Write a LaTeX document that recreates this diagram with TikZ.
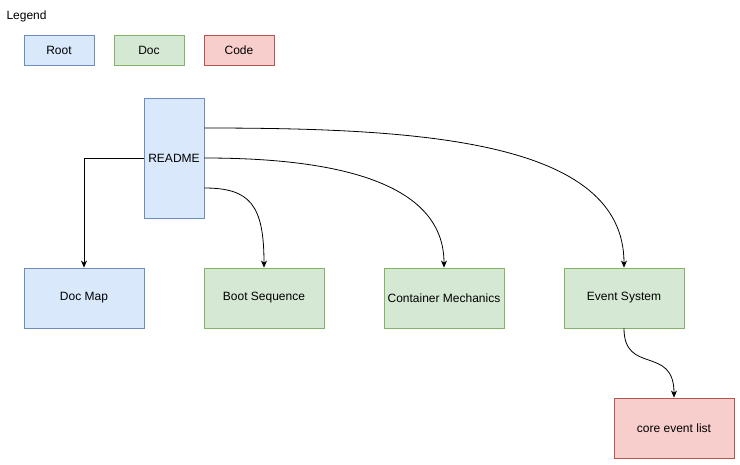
\documentclass[tikz,border=0pt]{standalone}
\usepackage{fontspec}
\setmainfont{Liberation Sans}
\usepackage{tikz}
\usetikzlibrary{arrows.meta}

\definecolor{rootfill}{HTML}{DAE8FC}
\definecolor{rootline}{HTML}{6C8EBF}
\definecolor{docfill}{HTML}{D5E8D4}
\definecolor{docline}{HTML}{82B366}
\definecolor{codefill}{HTML}{F8CECC}
\definecolor{codeline}{HTML}{B85450}

\tikzset{
  box/.style={draw, line width=0.8pt, minimum width=120pt, minimum height=60pt, inner sep=0pt,
    font=\fontsize{12}{14}\selectfont},
  legendbox/.style={box, minimum width=70pt, minimum height=30pt},
  rootbox/.style={fill=rootfill, draw=rootline},
  docbox/.style={fill=docfill, draw=docline},
  codebox/.style={fill=codefill, draw=codeline},
  link/.style={draw, line width=0.8pt, -{Stealth[length=7pt, width=6pt, inset=2pt]}}
}

\begin{document}
\begin{tikzpicture}[x=1pt, y=-1pt]
\useasboundingbox (0,0) rectangle (740,464);
%\draw [help lines] (0,0) grid [step=20] (740,464);
\node [anchor=west, font=\fontsize{12}{14}\selectfont] (legend) at (3,16) {Legend};
\node [legendbox, rootbox] (lroot) at (59,50) {Root};
\node [legendbox, docbox] (ldoc) at (149,50) {Doc};
\node [legendbox, codebox] (lcode) at (239,50) {Code};

\node [box, rootbox, minimum width=60pt, minimum height=120pt] (readme) at (174,158) {README};
\node [box, rootbox] (docmap) at (84,298) {Doc Map};
\node [box, docbox] (bootseq) at (264,298) {Boot Sequence};
\node [box, docbox] (container) at (444,298) {Container Mechanics};
\node [box, docbox] (events) at (624,298) {Event System};
\node [box, codebox] (eventlist) at (674,428) {core event list};

\draw [link] (readme.west) -| (docmap.north);
\draw [link] ([yshift=-30pt]readme.east) .. controls (250,188) and (264,205) .. (bootseq.north);
\draw [link] (readme.east) .. controls (330,158) and (444,180) .. (container.north);
\draw [link] ([yshift=30pt]readme.east) .. controls (420,128) and (624,140) .. (events.north);
\draw [link] (events.south) .. controls (624,375) and (674,345) .. (eventlist.north);
\end{tikzpicture}
\end{document}
